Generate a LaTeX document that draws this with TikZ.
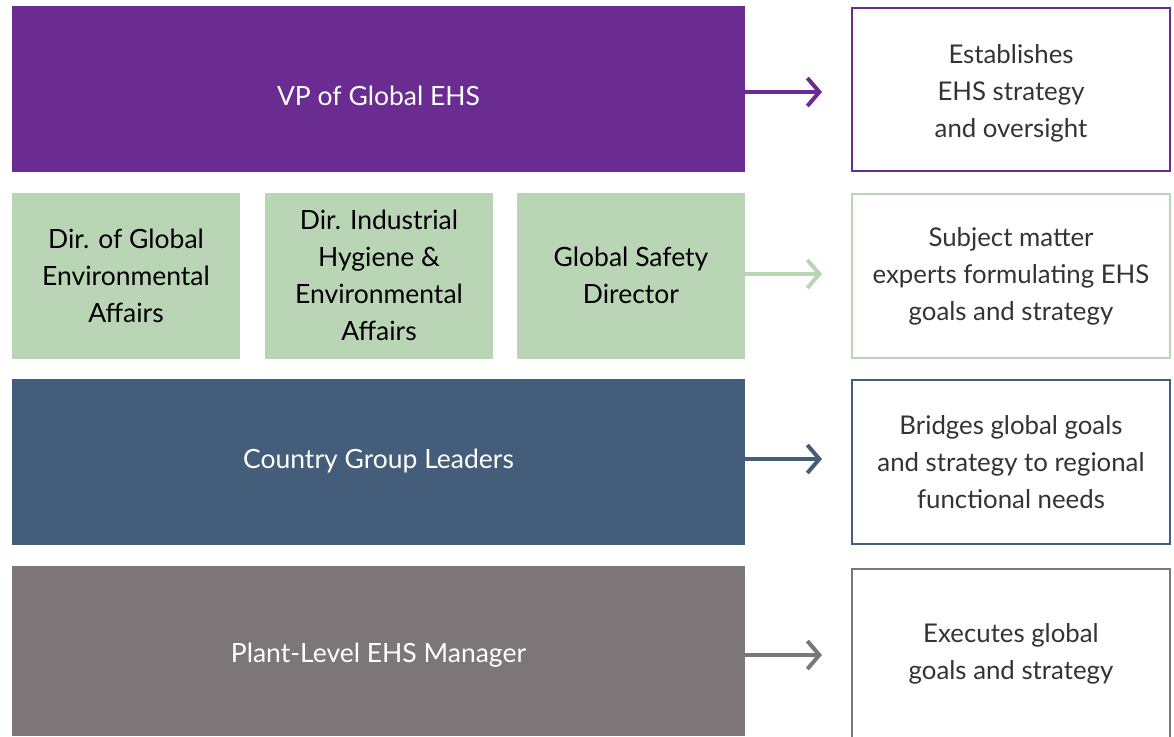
\documentclass[tikz,border=0pt]{standalone}
\usepackage{fontspec}
\setmainfont{Lato}
\usetikzlibrary{arrows.meta}
\definecolor{vp}{HTML}{6B2C91}
\definecolor{gr}{HTML}{B9D5B5}
\definecolor{bl}{HTML}{445D7A}
\definecolor{gy}{HTML}{7D7679}
\definecolor{tx}{HTML}{333333}
\tikzset{
  fill box/.style={inner sep=0pt, outer sep=0pt, align=center, font=\fontsize{26.5}{37}\selectfont},
  desc box/.style={draw, line width=2.5pt, inner sep=0pt, outer sep=0pt, align=center, text=tx, font=\fontsize{25.8}{37}\selectfont},
  conn/.style={line width=4pt, -{Straight Barb[length=12pt,width=28pt,line width=4pt]}}
}
\begin{document}
\begin{tikzpicture}[x=1pt,y=-1pt]
\useasboundingbox (0,0) rectangle (1174,736);
% left column
\node[fill box, fill=vp, minimum width=733pt, minimum height=166pt] (vp) at (378.5,89) {};
\node[text=white, font=\fontsize{26.5}{37}\selectfont, inner sep=0pt] (vpt) at (378.5,96) {VP of Global EHS};
\node[fill box, fill=gr, text=black, minimum width=228pt, minimum height=166pt] (d1) at (126,275.5) {Dir. of Global\\Environmental\\Affairs};
\node[fill box, fill=gr, text=black, minimum width=228pt, minimum height=166pt] (d2) at (379,275.5) {Dir. Industrial\\Hygiene \&\\Environmental\\Affairs};
\node[fill box, fill=gr, text=black, minimum width=228pt, minimum height=166pt] (d3) at (631,275.5) {Global Safety\\Director};
\node[fill box, fill=bl, text=white, minimum width=733pt, minimum height=166pt] (cg) at (378.5,461.5) {Country Group Leaders};
\node[fill box, fill=gy, minimum width=733pt, minimum height=170pt] (pl) at (378.5,651) {};
\node[text=white, font=\fontsize{26.5}{37}\selectfont, inner sep=0pt] (plt) at (378.5,655) {Plant-Level EHS Manager};
% right column
\node[desc box, draw=vp, minimum width=318pt, minimum height=163pt] (r1) at (1011,89.5) {};
\node[text=tx, align=center, font=\fontsize{25.8}{37}\selectfont, inner sep=0pt] (r1t) at (1011,93.5) {Establishes\\EHS strategy\\and oversight};
\node[desc box, draw=gr, minimum width=318pt, minimum height=164pt] (r2) at (1011,276) {Subject matter\\experts formulating EHS\\goals and strategy};
\node[desc box, draw=bl, minimum width=318pt, minimum height=164pt] (r3) at (1011,462) {Bridges global goals\\and strategy to regional\\functional needs};
\node[desc box, draw=gy, minimum width=318pt, minimum height=170pt] (r4) at (1011,654) {Executes global\\goals and strategy};
% connectors
\coordinate (a1) at (822,92);
\coordinate (a2) at (822,274);
\coordinate (a3) at (822,459);
\coordinate (a4) at (822,655);
\draw[conn, draw=vp] (vp.east |- a1) -- (a1);
\draw[conn, draw=gr] (d3.east |- a2) -- (a2);
\draw[conn, draw=bl] (cg.east |- a3) -- (a3);
\draw[conn, draw=gy] (pl.east |- a4) -- (a4);
\end{tikzpicture}
\end{document}
